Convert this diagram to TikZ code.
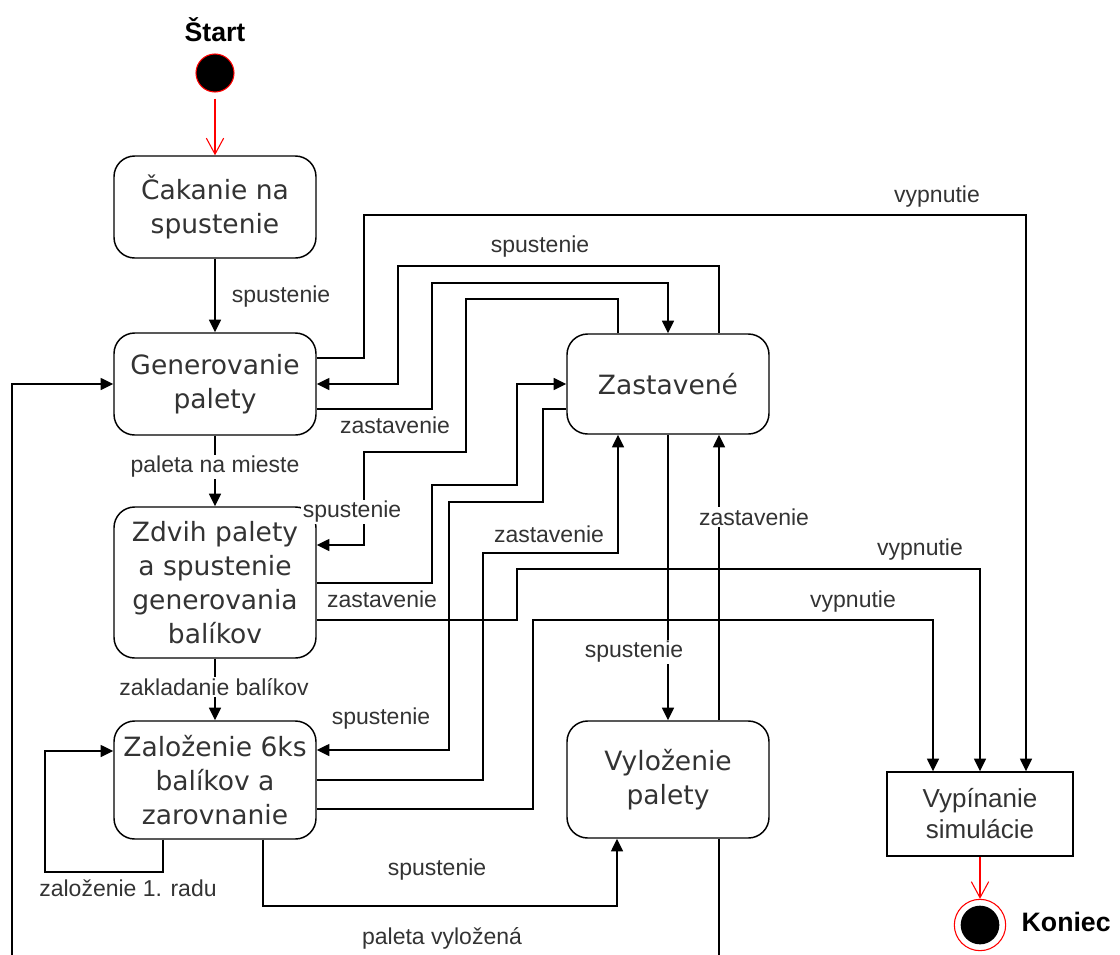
\documentclass[tikz,border=0pt]{standalone}
\usepackage{fontspec}
\setmainfont{Liberation Sans}
\newfontfamily\statefont{DejaVu Sans}
\usetikzlibrary{arrows.meta}
\definecolor{txt}{HTML}{333333}
\begin{document}
\begin{tikzpicture}[x=0.75pt,y=-0.75pt,
  state/.style={draw, line width=1.1pt, rounded corners=15.5pt, minimum width=151.5pt,
    align=center, font=\statefont\fontsize{19.9}{25.5}\selectfont, text=txt, inner sep=0pt},
  arr/.style={line width=1.1pt, -{Triangle[length=9.5pt,width=9pt]}},
  lbl/.style={font=\fontsize{17.25}{20}\selectfont, text=txt, inner sep=1pt},
  onl/.style={lbl, fill=white},
  initarr/.style={red, line width=0.8pt, -{Straight Barb[length=12pt,width=13pt]}},
  bold/.style={font=\bfseries\fontsize{20}{24}\selectfont}
]
\useasboundingbox (0,0) rectangle (1120,954);
\clip (0,0) rectangle (1120,954);

% pseudo states
\node[bold] (startlbl) at (215,30) {Štart};
\node[circle, fill=black, draw=red, line width=0.8pt, minimum size=28.5pt, inner sep=0pt] (start) at (215,73) {};
\node[circle, draw=red, line width=0.8pt, minimum size=38.5pt, inner sep=0pt] (end) at (980,925) {};
\node[circle, fill=black, minimum size=29pt, inner sep=0pt] (endin) at (end.center) {};
\node[bold, anchor=west] (endlbl) at (1017,922) {Koniec};

% states
\node[state, minimum height=76.5pt] (cak) at (215,207) {Čakanie na\\spustenie};
\node[state, minimum height=76.5pt] (gen) at (215,384) {Generovanie\\palety};
\node[state, minimum height=113.25pt] (zdv) at (215,582.5) {Zdvih palety\\a spustenie\\generovania\\balíkov};
\node[state, minimum height=88.5pt] (zal) at (215,780) {Založenie 6ks\\balíkov a\\zarovnanie};
\node[state, minimum height=75pt] (zas) at (668,384) {Zastavené};
\node[state, minimum height=87.75pt] (vyl) at (668,779.5) {Vyloženie\\palety};
\node[draw, line width=1.1pt, minimum width=139.5pt, minimum height=63pt, inner sep=0pt,
  align=center, font=\fontsize{19.5}{23.25}\selectfont, text=txt] (vyp) at (980,814) {Vypínanie\\simulácie};

% transitions
\draw[initarr, shorten <=4.5pt] (start.south) -- (cak.north);
\draw[initarr] (vyp.south) -- (end.north);
\draw[arr] (cak.south) -- (gen.north);
\draw[arr] (gen.south) -- (zdv.north);
\draw[arr] (zdv.south) -- (zal.north);
\draw[arr] (gen.east |- 0,358) -| (364,215) -| (vyp.north -| 1026,0);
\draw[arr] (zas.north -| 719,0) |- (398,266) |- (gen.east);
\draw[arr] (gen.east |- 0,409) -| (432,283) -| (zas.north);
\draw[arr] (zas.north -| 618,0) |- (466,299) |- (364,452) |- (zdv.east |- 0,545);
\draw[arr] (zdv.east |- 0,583) -| (432,485) -| (517,384) -- (zas.west);
\draw[arr] (zas.west |- 0,409) -| (543,502) -| (449,750) -- (zal.east |- 0,750);
\draw[arr] (zal.east) -| (483,553) -| (zas.south -| 618,0);
\draw[arr] (zdv.east |- 0,620) -| (517,569) -| (vyp.north);
\draw[arr] (zal.east |- 0,809) -| (533,620) -| (vyp.north -| 933,0);
\draw[arr] (zas.south) -- (vyl.north);
\draw[arr] (vyl.north -| 719,0) -- (zas.south -| 719,0);
\draw[arr] (vyl.south -| 719,0) -- (719,990) -| (12,384) -- (gen.west);
\draw[arr] (zal.south -| 263,0) |- (617,906) -- (vyl.south -| 617,0);
\draw[arr] (zal.south -| 163,0) |- (45,872) |- (zal.west |- 0,751);

% transition labels
\node[lbl] (l1) at (281,297) {spustenie};
\node[lbl] (l2) at (937,197) {vypnutie};
\node[lbl] (l3) at (540,247) {spustenie};
\node[lbl] (l4) at (395,425) {zastavenie};
\node[onl] (l5) at (215,467) {paleta na mieste};
\node[onl] (l6) at (352,512) {spustenie};
\node[lbl] (l7) at (382,599) {zastavenie};
\node[lbl] (l8) at (549,534) {zastavenie};
\node[onl] (l9) at (754,517) {zastavenie};
\node[lbl] (l10) at (920,550) {vypnutie};
\node[lbl] (l11) at (853,602) {vypnutie};
\node[onl] (l12) at (634,652) {spustenie};
\node[onl] (l13) at (214,687) {zakladanie balíkov};
\node[lbl] (l14) at (381,719) {spustenie};
\node[lbl] (l15) at (128,888) {založenie 1. radu};
\node[lbl] (l16) at (437,870) {spustenie};
\node[lbl] (l17) at (442,938) {paleta vyložená};
\end{tikzpicture}
\end{document}
